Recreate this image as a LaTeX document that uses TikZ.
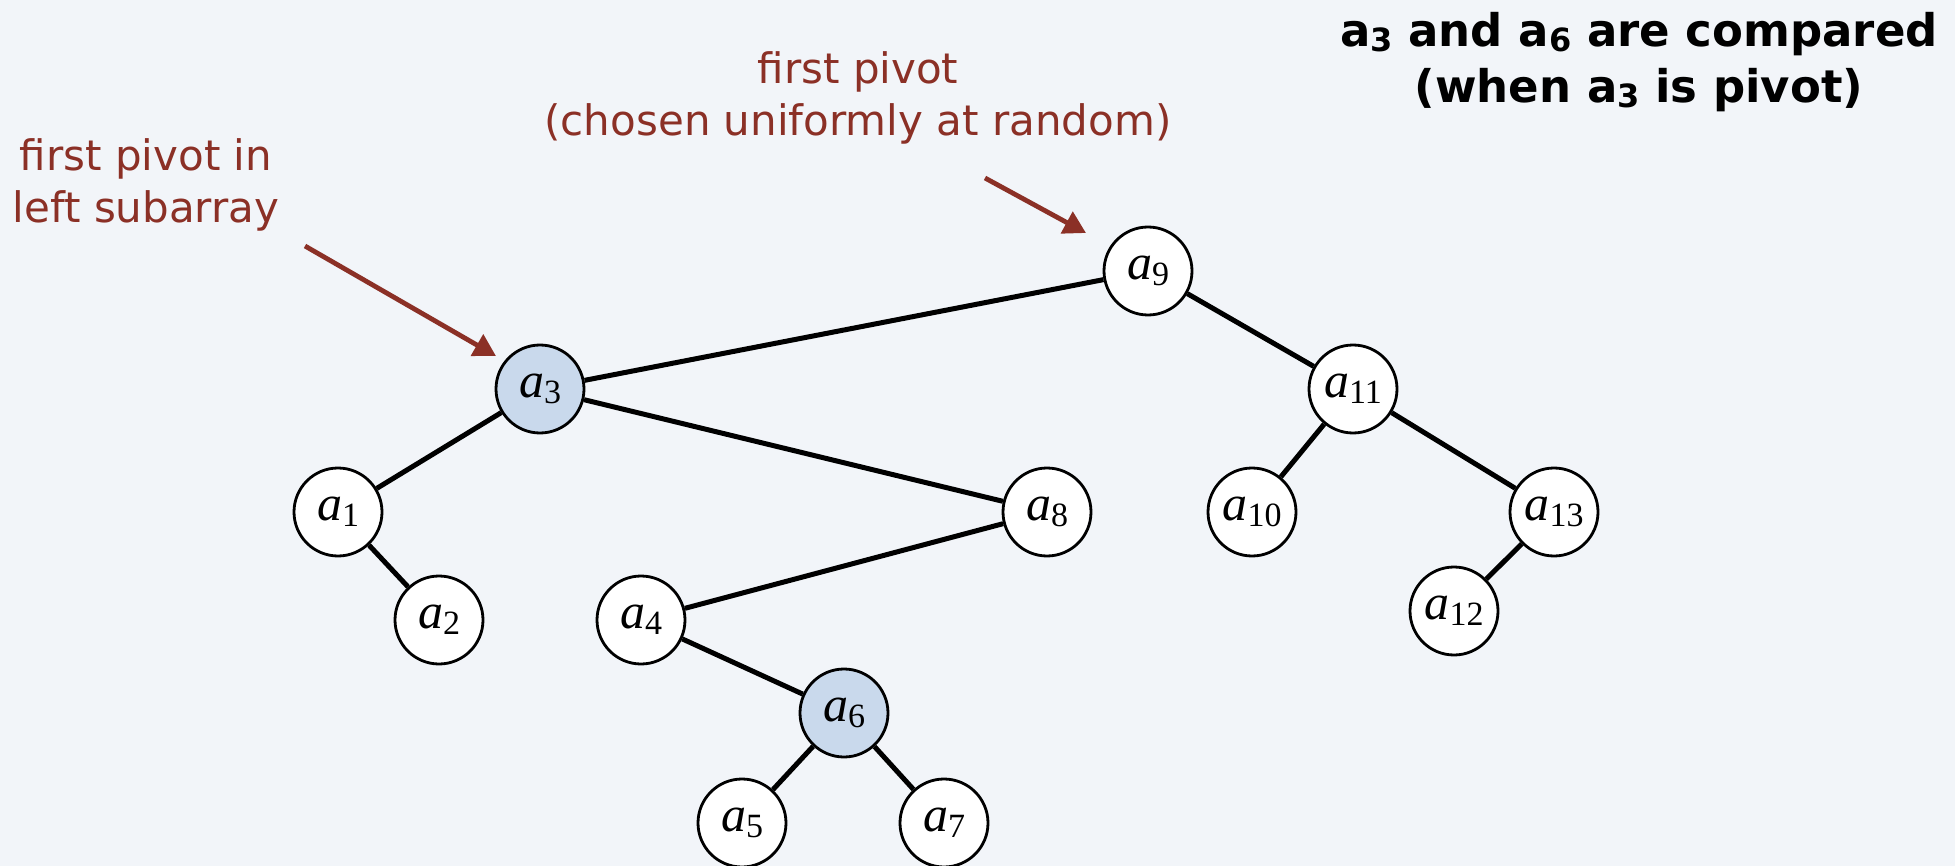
\documentclass[tikz,border=0pt]{standalone}
\usepackage{fontspec}
\setmainfont{Liberation Serif}
\newfontfamily\notefont{DejaVu Sans}
\usetikzlibrary{arrows.meta}
\definecolor{bgcol}{HTML}{F2F5F9}
\definecolor{pivotcol}{HTML}{C9D9EC}
\definecolor{notecol}{HTML}{8B3026}
% key label a_i in the tree
\newcommand{\keylab}[1]{\textit{a}\raisebox{-0.12em}{\fontsize{17}{17}\selectfont #1}}
% subscripted a in the heading
\newcommand{\headsub}[1]{a\raisebox{-0.12em}{\fontsize{16}{16}\selectfont #1}}
\begin{document}
\begin{tikzpicture}[x=0.5pt,y=-0.5pt,
  key/.style={circle,draw=black,line width=1.4pt,fill=white,minimum size=44pt,inner sep=0pt,
    font=\fontsize{25}{25}\selectfont},
  pivot/.style={key,fill=pivotcol},
  edge/.style={line width=2.5pt,black},
  note/.style={text=notecol,align=center,font=\notefont\fontsize{21}{26}\selectfont},
  pointer/.style={draw=notecol,line width=2.4pt,-{Triangle[length=11pt,width=12pt]}}]
\fill[bgcol] (0,0) rectangle (1955,866);
\useasboundingbox (0,0) rectangle (1955,866);

% key positions
\coordinate (p9) at (1148,271);
\coordinate (p3) at (540,389);
\coordinate (p11) at (1353,389);
\coordinate (p1) at (338,512);
\coordinate (p8) at (1047,512);
\coordinate (p10) at (1252,512);
\coordinate (p13) at (1554,512);
\coordinate (p2) at (439,620);
\coordinate (p4) at (641,620);
\coordinate (p12) at (1454,611);
\coordinate (p6) at (844,713);
\coordinate (p5) at (742,823);
\coordinate (p7) at (944,823);

\node[key]   (a9)  at (p9)  {\keylab{9}};
\node[pivot] (a3)  at (p3)  {\keylab{3}};
\node[key]   (a11) at (p11) {\keylab{11}};
\node[key]   (a1)  at (p1)  {\keylab{1}};
\node[key]   (a8)  at (p8)  {\keylab{8}};
\node[key]   (a10) at (p10) {\keylab{10}};
\node[key]   (a13) at (p13) {\keylab{13}};
\node[key]   (a2)  at (p2)  {\keylab{2}};
\node[key]   (a4)  at (p4)  {\keylab{4}};
\node[key]   (a12) at (p12) {\keylab{12}};
\node[pivot] (a6)  at (p6)  {\keylab{6}};
\node[key]   (a5)  at (p5)  {\keylab{5}};
\node[key]   (a7)  at (p7)  {\keylab{7}};

% tree edges
\draw[edge] (a9) -- (a3);
\draw[edge] (a9) -- (a11);
\draw[edge] (a3) -- (a1);
\draw[edge] (a3) -- (a8);
\draw[edge] (a1) -- (a2);
\draw[edge] (a8) -- (a4);
\draw[edge] (a4) -- (a6);
\draw[edge] (a6) -- (a5);
\draw[edge] (a6) -- (a7);
\draw[edge] (a11) -- (a10);
\draw[edge] (a11) -- (a13);
\draw[edge] (a13) -- (a12);

% annotations
\node[note] (leftnote) at (146,185) {first pivot in\\left subarray};
\node[note] (topnote) at (858,98) {first pivot\\(chosen uniformly at random)};
\node[align=center,font=\notefont\bfseries\fontsize{22.5}{28}\selectfont] (heading) at (1639,62)
  {\headsub{3} and \headsub{6} are compared\\(when \headsub{3} is pivot)};

\coordinate (s1) at (305,246);
\coordinate (t1) at (496,356);
\coordinate (s2) at (985,178);
\coordinate (t2) at (1086,233);
\draw[pointer] (s1) -- (t1);
\draw[pointer] (s2) -- (t2);
\end{tikzpicture}
\end{document}
